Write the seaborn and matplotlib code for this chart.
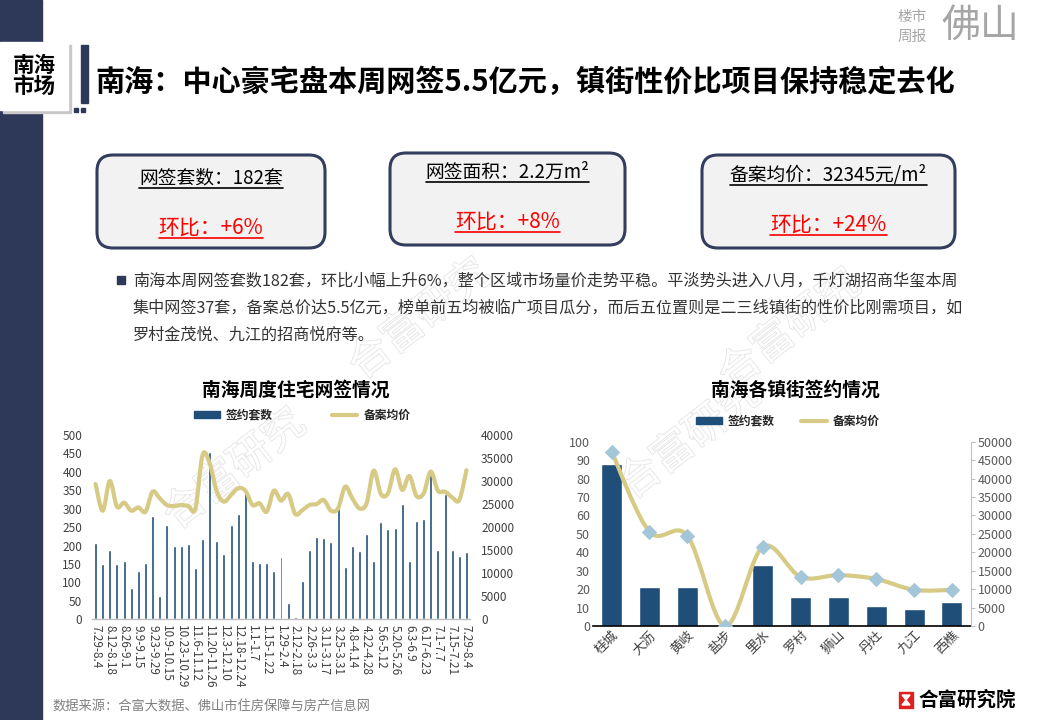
import numpy as np
import pandas as pd
import matplotlib
matplotlib.use('Agg')
import matplotlib.pyplot as plt
import seaborn as sns
from matplotlib.patches import FancyBboxPatch, Rectangle, Polygon, Patch, PathPatch
from matplotlib.path import Path
from matplotlib.lines import Line2D
import matplotlib.patheffects as pe

# ---------------- data ----------------
week_labels = [
    "7.29-8.4", "8.5-8.11", "8.12-8.18", "8.19-8.25", "8.26-9.1", "9.2-9.8",
    "9.9-9.15", "9.16-9.22", "9.23-9.29", "9.30-10.8", "10.9-10.15", "10.16-10.22",
    "10.23-10.29", "10.30-11.5", "11.6-11.12", "11.13-11.19", "11.20-11.26", "11.27-12.2",
    "12.3-12.10", "12.11-12.17", "12.18-12.24", "12.25-12.31", "1.1-1.7", "1.8-1.14",
    "1.15-1.22", "1.23-1.28", "1.29-2.4", "2.5-2.11", "2.12-2.18", "2.19-2.25",
    "2.26-3.3", "3.4-3.10", "3.11-3.17", "3.18-3.24", "3.25-3.31", "4.1-4.7",
    "4.8-4.14", "4.15-4.21", "4.22-4.28", "4.29-5.5", "5.6-5.12", "5.13-5.19",
    "5.20-5.26", "5.27-6.2", "6.3-6.9", "6.10-6.16", "6.17-6.23", "6.24-6.30",
    "7.1-7.7", "7.8-7.14", "7.15-7.21", "7.22-7.28", "7.29-8.4",
]
week_units = [208, 150, 187, 150, 157, 84, 131, 152, 280, 64,
              256, 198, 198, 205, 139, 218, 455, 213, 178, 256,
              286, 354, 157, 152, 154, 130, 168, 44, 5, 103,
              189, 223, 220, 211, 301, 141, 198, 185, 232, 157,
              265, 245, 249, 313, 157, 267, 272, 393, 189, 340,
              187, 171, 182]
week_price = [29365, 23570, 30015, 24440, 25310, 23570, 24290, 23350, 27700, 26250,
              24800, 24580, 24800, 24580, 24070, 35660, 33840, 27700, 25530, 26980,
              28430, 27920, 24800, 25170, 23350, 27920, 25750, 27200, 22840, 23710,
              24800, 25020, 25890, 23570, 24070, 28790, 26250, 24070, 25170, 32260,
              27200, 27350, 32550, 28070, 31100, 26760, 27350, 32040, 27920, 27700,
              26470, 25890, 32345]

towns = ["桂城", "大沥", "黄岐", "盐步", "里水", "罗村", "狮山", "丹灶", "九江", "西樵"]
town_units = [88, 21, 21, 0, 33, 16, 16, 11, 9, 13]
town_price = [47300, 25600, 24500, 0, 21500, 13300, 13800, 12750, 9800, 9800]

legend_labels = ["签约套数", "备案均价"]

# ---------------- style ----------------
sns.set_theme(style='white')
plt.rcParams['font.family'] = ['Noto Sans CJK SC', 'DejaVu Sans']
plt.rcParams['axes.unicode_minus'] = False

NAVY = '#1F4E79'
KHAKI = '#D6CA84'
DIAMOND = '#A3C6D8'
FRAME = '#333D5E'
TICK = '#404040'

W, H = 1040, 720
fig = plt.figure(figsize=(10.4, 7.2), dpi=100)
fig.patch.set_facecolor('white')

bg = fig.add_axes([0, 0, 1, 1], zorder=0)
bg.set_xlim(0, W)
bg.set_ylim(H, 0)
bg.axis('off')


def rect(l, t, r, b):
    return [l / W, 1 - b / H, (r - l) / W, (b - t) / H]


def smooth_line(ax, line, color, lw):
    """Render an existing seaborn line as a smooth (Excel-style) Bezier curve
    through its own data points."""
    xy = line.get_xydata()
    n = len(xy)
    ext = np.vstack([xy[0], xy, xy[-1]])
    verts = [tuple(xy[0])]
    codes = [Path.MOVETO]
    for i in range(n - 1):
        p0, p1, p2, p3 = ext[i], ext[i + 1], ext[i + 2], ext[i + 3]
        c1 = p1 + (p2 - p0) / 6.0
        c2 = p2 - (p3 - p1) / 6.0
        verts += [tuple(c1), tuple(c2), tuple(p2)]
        codes += [Path.CURVE4] * 3
    patch = PathPatch(Path(verts, codes), facecolor='none', edgecolor=color, lw=lw,
                      capstyle='round', joinstyle='round', zorder=line.get_zorder())
    ax.add_patch(patch)
    line.set_linestyle('none')


# ---------------- slide decorations ----------------
bg.add_patch(Rectangle((0, 0), 42, H, color='#2E3859', zorder=1))
bg.add_patch(Rectangle((3, 45), 68, 68, color='#C8C8C8', zorder=2))
bg.add_patch(Rectangle((0, 42), 68, 68, color='white', zorder=3))
bg.text(34, 76, "南海\n市场", ha='center', va='center', fontsize=15.5,
        fontweight='bold', color='black', linespacing=1.05, zorder=4)
bg.add_patch(Rectangle((81, 45), 7, 58, color='#2E3859', zorder=2))
bg.add_patch(Rectangle((74, 108), 4, 4, color='#2E3859', zorder=2))
bg.add_patch(Rectangle((81, 108), 4, 4, color='#2E3859', zorder=2))

bg.text(95, 82, "南海：中心豪宅盘本周网签5.5亿元，镇街性价比项目保持稳定去化",
        ha='left', va='center', fontsize=21, fontweight='bold', color='black')

bg.text(912, 17, "楼市", ha='center', va='center', fontsize=10.5, color='#A6A6A6')
bg.text(912, 37, "周报", ha='center', va='center', fontsize=10.5, color='#A6A6A6')
bg.text(980, 26, "佛山", ha='center', va='center', fontsize=28, color='#A6A6A6',
        fontweight='light')

# watermarks
for (wx, wy, rot) in [(235, 470, 38), (690, 440, 38), (420, 320, 38), (790, 330, 38)]:
    bg.text(wx, wy, "合富研究", ha='center', va='center', fontsize=30, rotation=rot,
            color='white', alpha=1, zorder=0.5,
            path_effects=[pe.Stroke(linewidth=1.2, foreground='#E4E4E4'), pe.Normal()])

# KPI boxes
boxes = [
    ((97, 155, 325, 248), "网签套数：182套", "环比：+6%", 178, 228),
    ((390, 153, 625, 245), "网签面积：2.2万m²", "环比：+8%", 172, 222),
    ((702, 155, 955, 248), "备案均价：32345元/m²", "环比：+24%", 175, 225),
]
underline_items = []
for (l, t, r, b), s1, s2, y1, y2 in boxes:
    bg.add_patch(FancyBboxPatch((l, t), r - l, b - t,
                                boxstyle="round,pad=0,rounding_size=16",
                                facecolor='#F2F2F2', edgecolor=FRAME, lw=2.2, zorder=2))
    cx = (l + r) / 2
    t1 = bg.text(cx, y1, s1, ha='center', va='center', fontsize=13.5, color='black', zorder=3)
    t2 = bg.text(cx, y2, s2, ha='center', va='center', fontsize=15, color='#FF0000', zorder=3)
    underline_items.append((t1, 'black'))
    underline_items.append((t2, '#FF0000'))

# bullet paragraph
bg.add_patch(Rectangle((117, 276), 8, 8, color='#2E3859', zorder=2))
para = [
    "南海本周网签套数182套，环比小幅上升6%，整个区域市场量价走势平稳。平淡势头进入八月，千灯湖招商华玺本周",
    "集中网签37套，备案总价达5.5亿元，榜单前五均被临广项目瓜分，而后五位置则是二三线镇街的性价比刚需项目，如",
    "罗村金茂悦、九江的招商悦府等。",
]
for i, line in enumerate(para):
    bg.text(133, 281 + i * 27, line, ha='left', va='center', fontsize=11.6, color='#333333')

# chart titles
bg.text(296, 390, "南海周度住宅网签情况", ha='center', va='center', fontsize=13.5,
        fontweight='bold', color='black')
bg.text(795, 390, "南海各镇街签约情况", ha='center', va='center', fontsize=13.5,
        fontweight='bold', color='black')

# footer
bg.text(52, 706, "数据来源：合富大数据、佛山市住房保障与房产信息网", ha='left', va='center',
        fontsize=9.5, color='#808080')
bg.add_patch(Rectangle((899, 692), 14, 16, color='#E02020', zorder=2))
bg.add_patch(Polygon([(902, 695), (910, 695), (906, 700)], color='white', zorder=3))
bg.add_patch(Polygon([(902, 705), (910, 705), (906, 700)], color='white', zorder=3))
bg.text(918, 700, "合富研究院", ha='left', va='center', fontsize=14, fontweight='bold',
        color='black')

# ---------------- left chart ----------------
df_w = pd.DataFrame({"week": np.arange(len(week_labels)), "label": week_labels,
                     "units": week_units, "price": week_price})

ax1 = fig.add_axes(rect(92, 435, 470, 619.3), zorder=2)
ax1.patch.set_alpha(0)
sns.barplot(data=df_w, x="week", y="units", color=NAVY, saturation=1, width=0.42, ax=ax1)
ax1.set_ylim(0, 500)
ax1.set_yticks(np.arange(0, 501, 50))
ax1.set_xticks(np.arange(0, len(week_labels), 2))
ax1.set_xticklabels(week_labels[::2], rotation=-90, fontsize=8.5, color=TICK)
ax1.tick_params(axis='x', length=0, pad=4)
ax1.tick_params(axis='y', length=0, labelsize=8.5, colors=TICK, pad=7)
ax1.set_xlabel("")
ax1.set_ylabel("")
for s in ['left', 'right', 'top']:
    ax1.spines[s].set_visible(False)
ax1.spines['bottom'].set_color('#BFBFBF')
ax1.spines['bottom'].set_linewidth(1)

ax2 = ax1.twinx()
sns.lineplot(data=df_w, x="week", y="price", color=KHAKI, lw=3, ax=ax2)
smooth_line(ax2, ax2.lines[0], KHAKI, 3)
ax2.set_ylim(0, 40000)
ax2.set_yticks(np.arange(0, 40001, 5000))
ax2.tick_params(axis='y', length=0, labelsize=8.5, colors=TICK, pad=8)
ax2.set_ylabel("")
ax2.set_xlim(-0.5, len(week_labels) - 0.5)
ax1.set_xlim(-0.5, len(week_labels) - 0.5)
for s in ['left', 'right', 'top', 'bottom']:
    ax2.spines[s].set_visible(False)

handles = [Patch(facecolor=NAVY, edgecolor=NAVY), Line2D([0], [0], color=KHAKI, lw=3)]
fig.legend(handles, legend_labels, loc='center', bbox_to_anchor=(302 / W, 1 - 415 / H),
           ncol=2, frameon=False, prop={'size': 8.5, 'weight': 'bold'},
           handlelength=2.2, handleheight=0.55, columnspacing=5.0, handletextpad=0.5)

# ---------------- right chart ----------------
df_t = pd.DataFrame({"town": towns, "pos": np.arange(len(towns)),
                     "units": town_units, "price": town_price})

ax3 = fig.add_axes(rect(592.8, 441.7, 970.8, 626), zorder=2)
ax3.patch.set_alpha(0)
sns.barplot(data=df_t, x="town", y="units", color=NAVY, saturation=1, width=0.56, ax=ax3)
ax3.set_ylim(0, 100)
ax3.set_yticks(np.arange(0, 101, 10))
ax3.tick_params(axis='y', length=0, labelsize=9, colors='#595959', pad=2)
ax3.tick_params(axis='x', length=0, labelsize=9.5, colors='#404040', pad=2)
for lab in ax3.get_xticklabels():
    lab.set_rotation(45)
    lab.set_ha('right')
    lab.set_rotation_mode('anchor')
ax3.set_xlabel("")
ax3.set_ylabel("")
for s in ['left', 'right', 'top']:
    ax3.spines[s].set_visible(False)
ax3.spines['bottom'].set_color('black')
ax3.spines['bottom'].set_linewidth(1.2)

ax4 = ax3.twinx()
sns.lineplot(data=df_t, x="pos", y="price", color=KHAKI, lw=3, ax=ax4,
             marker='D', markersize=7, markerfacecolor=DIAMOND, markeredgecolor=DIAMOND)
ln = ax4.lines[0]
smooth_line(ax4, ln, KHAKI, 3)
ln.set_zorder(5)
ax4.set_ylim(0, 50000)
ax4.set_yticks(np.arange(0, 50001, 5000))
ax4.tick_params(axis='y', length=3, width=0.8, color='#BFBFBF', direction='out',
                labelsize=9, colors='#595959', pad=2)
ax4.tick_params(axis='y', color='#BFBFBF')
ax4.set_ylabel("")
ax4.set_xlim(-0.5, len(towns) - 0.5)
ax3.set_xlim(-0.5, len(towns) - 0.5)
for s in ['left', 'top', 'bottom']:
    ax4.spines[s].set_visible(False)
ax4.spines['right'].set_color('#BFBFBF')
ax4.spines['right'].set_linewidth(0.8)

fig.legend(handles, legend_labels, loc='center', bbox_to_anchor=(788 / W, 1 - 421 / H),
           ncol=2, frameon=False, prop={'size': 8.5, 'weight': 'bold'},
           handlelength=2.2, handleheight=0.55, columnspacing=2.2, handletextpad=0.5)

# ---------------- underlines for KPI texts ----------------
fig.canvas.draw()
renderer = fig.canvas.get_renderer()
inv = bg.transData.inverted()
for txt, col in underline_items:
    bb = txt.get_window_extent(renderer)
    (x0, y0), (x1, y1) = inv.transform([(bb.x0, bb.y0), (bb.x1, bb.y1)])
    ybase = max(y0, y1) - 1
    bg.add_line(Line2D([x0, x1], [ybase, ybase], color=col, lw=1.2, zorder=3))

fig.savefig("out.png", dpi=100)
